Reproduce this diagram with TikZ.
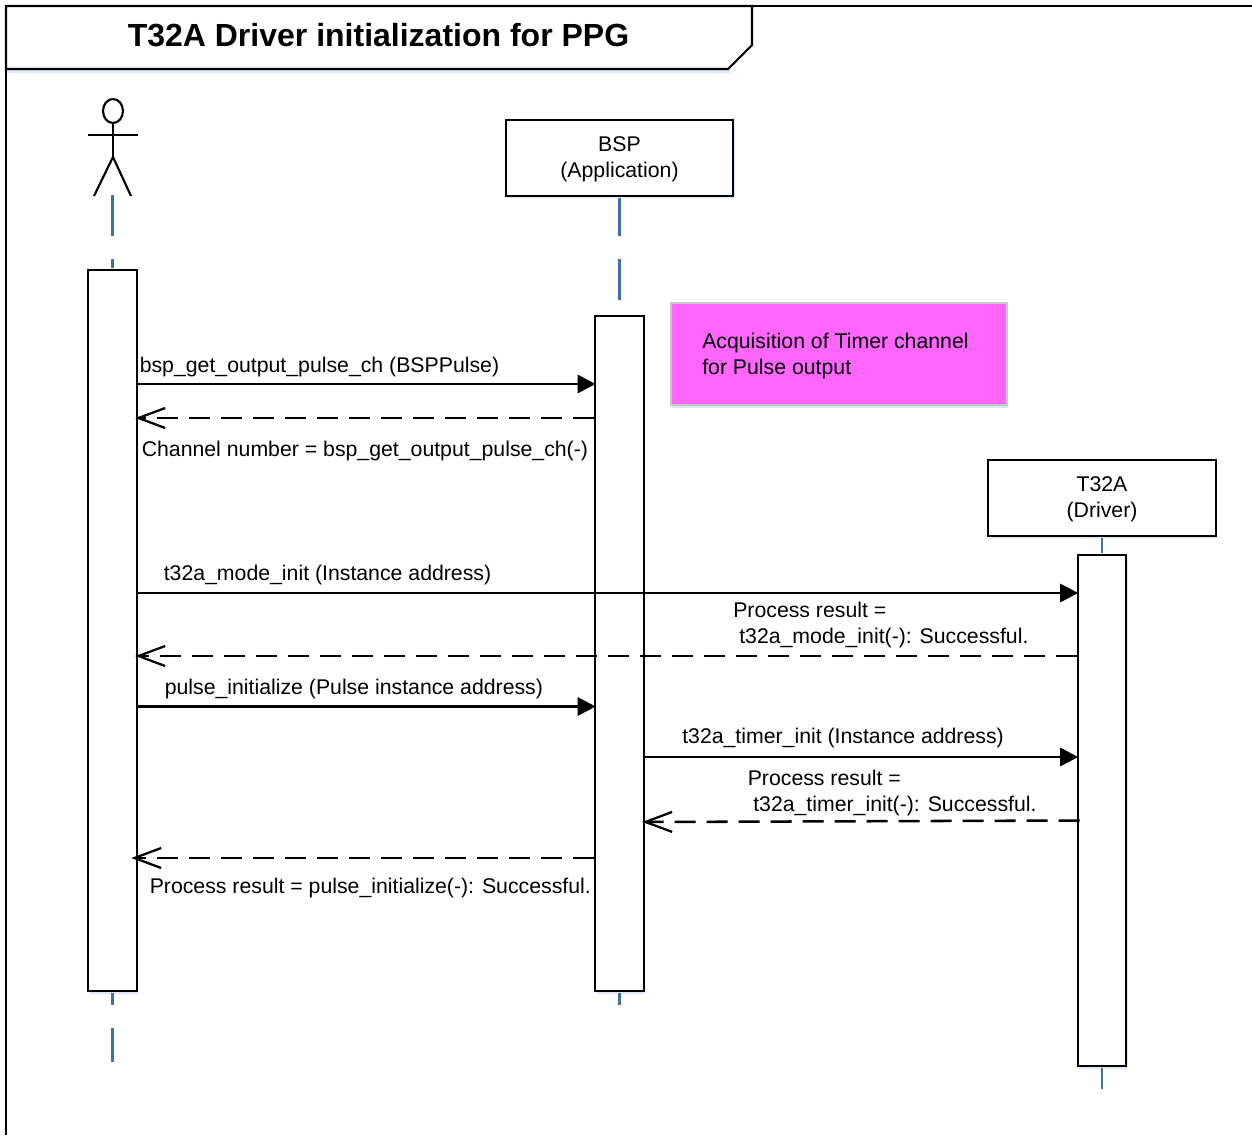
\documentclass[tikz,border=0pt]{standalone}
\usepackage{fontspec}
\setmainfont{Liberation Sans}
\usetikzlibrary{arrows.meta,shadows,calc}
\definecolor{lifeblue}{HTML}{41719C}
\definecolor{softshadow}{HTML}{DCE8F6}
\definecolor{pinknote}{HTML}{FF66FF}
\definecolor{notebord}{HTML}{C8C8C8}
\newcommand{\firststrut}{\rule{0pt}{13.4pt}}
\tikzset{
  x=0.75pt,y=-0.75pt,
  softshade/.style={general shadow={shadow xshift=1pt,shadow yshift=-2.2pt,fill=softshadow}},
  bar/.style={draw=black,line width=1.6pt,fill=white,minimum width=36.5pt,inner sep=0pt,softshade,line join=miter},
  obj/.style={draw=black,line width=1.5pt,fill=white,minimum width=170.5pt,inner sep=0pt,softshade,align=center,font=\fontsize{15.95}{19.3}\selectfont},
  lbl/.style={anchor=base west,inner sep=0pt,font=\fontsize{15.95}{19}\selectfont},
  life/.style={draw=lifeblue,line width=1.7pt},
  call/.style={draw=black,line width=2.2pt,-{Triangle[length=13.5pt,width=13.5pt]},shorten >=-1.2pt},
  back/.style={draw=black,line width=1.9pt,dash pattern=on 15.75pt off 8.25pt,-{Straight Barb[length=20pt,width=15pt,line width=1.7pt]},shorten >=-2pt},
  figure/.style={draw=black,line width=1.6pt},
}
\begin{document}
\begin{tikzpicture}
\useasboundingbox (0,0) rectangle (1252,1135);
% frame
\coordinate (frameTL) at (6,6);
\coordinate (frameTR) at (1252,6);
\coordinate (frameBL) at (6,1135);
\draw[black,line width=1.6pt] (frameBL) -- (frameTL) -- (frameTR);
\fill[softshadow] (7,69) -- (728,69) -- (731,73) -- (7,73) -- cycle;
\draw[black,line width=1.6pt,fill=white] (6,6) -- (752,6) -- (752,45) -- (728,69) -- (6,69) -- cycle;
\node[anchor=base,inner sep=0pt,font=\fontsize{24}{29}\selectfont\bfseries] (title) at (378.5,46) {T32A Driver initialization for PPG};
% actor
\coordinate (actorFootL) at (94,196);
\coordinate (actorFootR) at (131,196);
\coordinate (actorHip) at (113,157);
\coordinate (actorNeck) at (113,123);
\coordinate (actorArmL) at (88,135);
\coordinate (actorArmR) at (138,135);
\draw[figure] (113,111) ellipse (10 and 12);
\draw[figure] (actorNeck) -- (actorHip);
\draw[figure] (actorArmL) -- (actorArmR);
\draw[figure] (actorFootL) -- (actorHip) -- (actorFootR);
% lifelines
\coordinate (l1a) at (112.5,195);
\coordinate (l1b) at (112.5,236);
\coordinate (l1c) at (112.5,259);
\coordinate (l1f) at (112.5,1005);
\coordinate (l1g) at (112.5,1028);
\coordinate (l1h) at (112.5,1062);
\coordinate (l2b) at (619.5,236);
\coordinate (l2c) at (619.5,259);
\coordinate (l2d) at (619.5,300);
\coordinate (l2f) at (619.5,1005);
\coordinate (l3d) at (1102,1089);
% objects
\node[obj,minimum height=57pt] (bsp) at (619.5,157.5) {\firststrut BSP\\(Application)};
\node[obj,minimum height=57pt] (t32) at (1102,498) {\firststrut T32A\\(Driver)};
% activation bars
\node[bar,minimum height=540.75pt] (a1) at (112.5,630.5) {};
\node[bar,minimum height=506.25pt] (a2) at (619.5,653.5) {};
\node[bar,minimum height=383.25pt] (a3) at (1102,810.5) {};
\draw[life] (l1a) -- (l1b) (l1c) -- ([yshift=0.8pt]a1.north) ([yshift=-0.8pt]a1.south) -- (l1f) (l1g) -- (l1h);
\draw[life] ([yshift=-0.8pt]bsp.south) -- (l2b) (l2c) -- (l2d) ([yshift=-0.8pt]a2.south) -- (l2f);
\draw[life] ([yshift=-0.8pt]t32.south) -- ([yshift=0.8pt]a3.north) ([yshift=-0.8pt]a3.south) -- (l3d);
% note
\node[draw=notebord,line width=1.2pt,fill=pinknote,minimum width=252pt,minimum height=76.5pt,inner sep=0pt,softshade] (note) at (839,354) {};
\node[lbl] (noteA) at (702,348) {Acquisition of Timer channel};
\node[lbl] (noteB) at (702,374) {for Pulse output};
% messages
\draw[call] (a1.east |- 0,384) -- (a2.west |- 0,384);
\draw[back] (a2.west |- 0,418) -- (a1.east |- 0,418);
\draw[call] (a1.east |- 0,593) -- (a3.west |- 0,593);
\draw[back] (a3.west |- 0,656) -- (a1.east |- 0,656);
\draw[call] (a1.east |- 0,706.5) -- (a2.west |- 0,706.5);
\draw[call] (a2.east |- 0,757) -- (a3.west |- 0,757);
\draw[back] ($(a3.west |- 0,820.5)+(3,0)$) -- (a2.east |- 0,822);
\draw[back] (a2.west |- 0,858) -- ($(a1.east |- 0,858)+(-4,0)$);
% labels
\node[lbl] (m1) at (139.5,372) {bsp\_get\_output\_pulse\_ch (BSPPulse)};
\node[lbl] (m2) at (141.5,456) {Channel number = bsp\_get\_output\_pulse\_ch(-)};
\node[lbl] (m3) at (163.5,580) {t32a\_mode\_init (Instance address)};
\node[lbl] (m4a) at (733,617) {Process result =};
\node[lbl] (m4b) at (739,643) {t32a\_mode\_init(-): Successful.};
\node[lbl] (m5) at (164.5,694) {pulse\_initialize (Pulse instance address)};
\node[lbl] (m6) at (682,743) {t32a\_timer\_init (Instance address)};
\node[lbl] (m7a) at (747.5,785) {Process result =};
\node[lbl] (m7b) at (753,811) {t32a\_timer\_init(-): Successful.};
\node[lbl] (m8) at (149.5,893) {Process result = pulse\_initialize(-): Successful.};
\end{tikzpicture}
\end{document}
